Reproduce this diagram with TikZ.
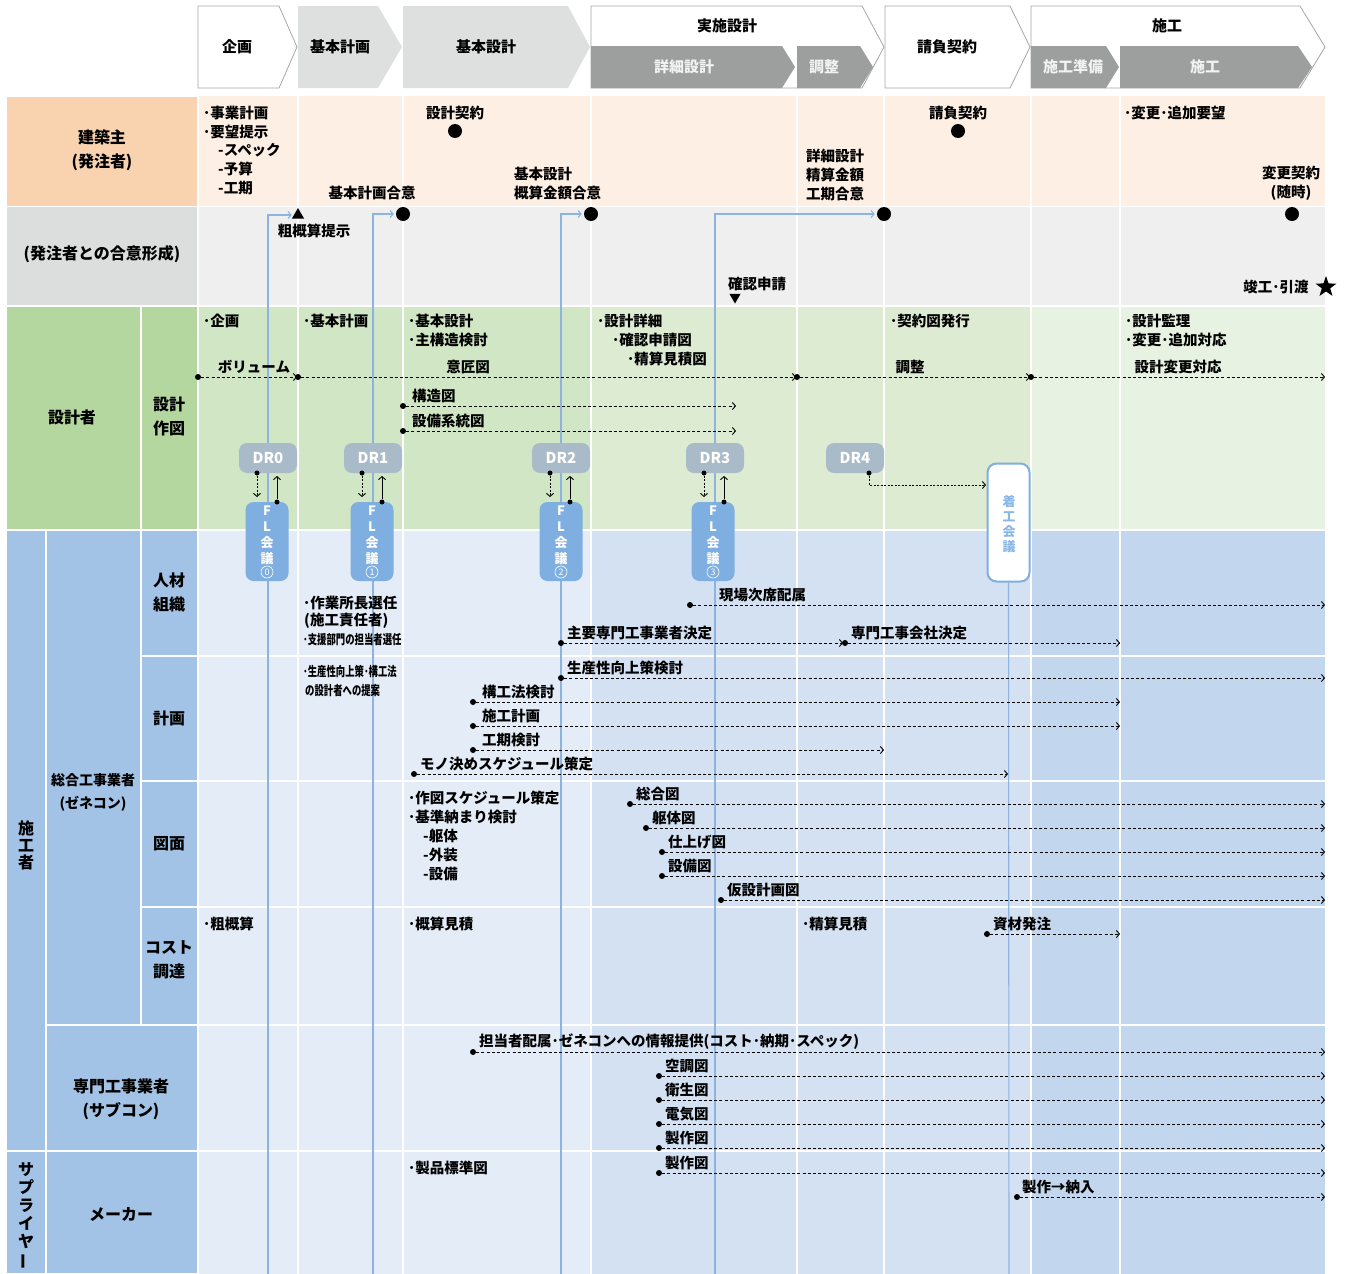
\documentclass[tikz,border=0pt]{standalone}
\usepackage{fontspec}
\usepackage{graphicx}
\setmainfont{Noto Sans CJK JP}
\usetikzlibrary{arrows.meta,shapes.geometric,calc}

\definecolor{ownerL}{HTML}{F9D3AF}
\definecolor{ownerC}{HTML}{FDEFE4}
\definecolor{agreeL}{HTML}{DCDDDD}
\definecolor{agreeC}{HTML}{EFEFEF}
\definecolor{desL}{HTML}{B4D79F}
\definecolor{desA}{HTML}{D0E6C4}
\definecolor{desB}{HTML}{DDEBD3}
\definecolor{desC}{HTML}{E8F2E2}
\definecolor{conL}{HTML}{A3C3E6}
\definecolor{conA}{HTML}{E4ECF7}
\definecolor{conB}{HTML}{D3E1F2}
\definecolor{conC}{HTML}{C2D6EE}
\definecolor{hdrLight}{HTML}{DEDFDF}
\definecolor{hdrDark}{HTML}{9D9E9E}
\definecolor{hdrEdge}{HTML}{A6A6A6}
\definecolor{hdrText}{HTML}{F2F2F2}
\definecolor{drFill}{HTML}{A9BAC9}
\definecolor{flFill}{HTML}{7EAFE0}
\definecolor{flText}{HTML}{8AB8E6}
\definecolor{vline}{HTML}{8DB4E0}

\begin{document}
\begin{tikzpicture}[x=1pt,y=-1pt,
  txt/.style={inner sep=0pt, font=\fontsize{14.5}{19}\selectfont\bfseries},
  lft/.style={txt, anchor=west, align=left},
  small/.style={lft, font=\fontsize{13}{19}\selectfont\bfseries},
  lbl/.style={inner sep=0pt, align=center, font=\fontsize{16}{24}\selectfont\bfseries},
  vlbl/.style={inner sep=0pt, align=center, font=\fontsize{16}{17}\selectfont\bfseries},
  hdr/.style={inner sep=0pt, font=\fontsize{15}{18}\selectfont\bfseries},
  hdrw/.style={hdr, text=hdrText},
  cell/.style={draw=white, line width=1.6pt},
  grid/.style={draw=white, line width=1.6pt},
  dotn/.style={circle, fill=black, inner sep=0pt, minimum size=6pt},
  mile/.style={circle, fill=black, inner sep=0pt, minimum size=14pt},
  flow/.style={line width=0.9pt, dash pattern=on 3pt off 2.2pt,
    -{Straight Barb[length=3pt,width=7pt]}},
  solidflow/.style={line width=0.9pt, -{Straight Barb[length=3pt,width=7pt]}},
  blueline/.style={draw=vline, line width=1.1pt, shorten >=2pt,
    -{Straight Barb[length=3pt,width=7pt]}},
  drbox/.style={rounded corners=8pt, fill=drFill, minimum width=58pt,
    minimum height=30pt, inner sep=0pt, text=white,
    font=\fontsize{15}{15}\selectfont\bfseries},
  flbox/.style={rounded corners=8pt, fill=flFill, minimum width=43pt,
    minimum height=79pt, inner sep=0pt},
  fltext/.style={inner sep=0pt, align=center, text=white,
    font=\fontsize{13}{16}\selectfont\bfseries},
  circnum/.style={circle, draw=white, line width=0.6pt, minimum size=12pt,
    inner sep=0pt, text=white, font=\fontsize{9}{9}\selectfont}
]
\useasboundingbox (0,0) rectangle (1345,1274);

% ---------- phase header ----------
\draw[hdrEdge, fill=white, line width=0.8pt] (198,6) -- (279,6) -- (297,47) -- (279,88) -- (198,88) -- cycle;
\fill[hdrLight] (298,6) -- (378,6) -- (402,47) -- (378,88) -- (298,88) -- cycle;
\fill[hdrLight] (403,6) -- (568,6) -- (590,47) -- (568,88) -- (403,88) -- cycle;
\draw[hdrEdge, fill=white, line width=0.8pt] (591,6) -- (862,6) -- (884,47) -- (862,88) -- (591,88) -- cycle;
\fill[hdrDark] (591,46) -- (782,46) -- (795,67) -- (782,88) -- (591,88) -- cycle;
\fill[hdrDark] (797,46) -- (860,46) -- (873,67) -- (860,88) -- (797,88) -- cycle;
\draw[hdrEdge, fill=white, line width=0.8pt] (885,6) -- (1010,6) -- (1030,47) -- (1010,88) -- (885,88) -- cycle;
\draw[hdrEdge, fill=white, line width=0.8pt] (1031,6) -- (1300,6) -- (1325,47) -- (1300,88) -- (1031,88) -- cycle;
\fill[hdrDark] (1031,46) -- (1106,46) -- (1119,67) -- (1106,88) -- (1031,88) -- cycle;
\fill[hdrDark] (1120,46) -- (1298,46) -- (1312,67) -- (1298,88) -- (1120,88) -- cycle;

\node[hdr] (h1) at (237,47) {企画};
\node[hdr] (h2) at (340,47) {基本計画};
\node[hdr] (h3) at (486,47) {基本設計};
\node[hdr] (h4) at (727,26) {実施設計};
\node[hdrw] (h4a) at (684,67) {詳細設計};
\node[hdrw] (h4b) at (824,67) {調整};
\node[hdr] (h5) at (947,47) {請負契約};
\node[hdr] (h6) at (1167,26) {施工};
\node[hdrw] (h6a) at (1073,67) {施工準備};
\node[hdrw] (h6b) at (1205,67) {施工};

% ---------- content backgrounds ----------
\fill[ownerC] (198,96) rectangle (1325,206.5);
\fill[agreeC] (198,206.5) rectangle (1325,306);
\fill[desA] (198,306) rectangle (591,530);
\fill[desB] (591,306) rectangle (1031,530);
\fill[desC] (1031,306) rectangle (1325,530);
\fill[conA] (198,530) rectangle (591,1274);
\fill[conB] (591,530) rectangle (1031,1274);
\fill[conC] (1031,530) rectangle (1325,1274);
\foreach \x in {298,403,591,797,884,1031,1120}
  \draw[grid] (\x,96) -- (\x,1274);
\foreach \y in {206.5,306,530,656,781,907,1025,1151}
  \draw[grid] (198,\y) -- (1325,\y);

% ---------- row label cells ----------
\path[cell, fill=ownerL] (6,96) rectangle (198,206.5);
\path[cell, fill=agreeL] (6,206.5) rectangle (198,306);
\path[cell, fill=desL] (6,306) rectangle (141,530);
\path[cell, fill=desL] (141,306) rectangle (198,530);
\path[cell, fill=conL] (6,530) rectangle (46,1151);
\path[cell, fill=conL] (46,530) rectangle (141,1025);
\path[cell, fill=conL] (141,530) rectangle (198,656);
\path[cell, fill=conL] (141,656) rectangle (198,781);
\path[cell, fill=conL] (141,781) rectangle (198,907);
\path[cell, fill=conL] (141,907) rectangle (198,1025);
\path[cell, fill=conL] (46,1025) rectangle (198,1151);
\path[cell, fill=conL] (6,1151) rectangle (46,1274);
\path[cell, fill=conL] (46,1151) rectangle (198,1274);

\node[lbl] (l1) at (102,150) {建築主\\(発注者)};
\node[lbl] (l2) at (102,254) {(発注者との合意形成)};
\node[lbl] (l3) at (72,417) {設計者};
\node[lbl] (l4) at (169,416) {設計\\作図};
\node[vlbl] (l5) at (26,845) {施\\工\\者};
\node[lbl, font=\fontsize{14}{23}\selectfont\bfseries] (l6) at (93,792) {総合工事業者\\(ゼネコン)};
\node[lbl] (l7) at (169,592) {人材\\組織};
\node[lbl] (l8) at (169,718) {計画};
\node[lbl] (l9) at (169,844) {図面};
\node[lbl] (l10) at (169,960) {コスト\\調達};
\node[lbl] (l11) at (121,1099) {専門工事業者\\(サブコン)};
\node[vlbl, font=\fontsize{16}{18}\selectfont\bfseries] (l12) at (26,1216) {サ\\プ\\ラ\\イ\\ヤ\\\rotatebox[origin=c]{90}{ー}};
\node[lbl] (l13) at (121,1214) {メーカー};

% ---------- milestones ----------
\node[regular polygon, regular polygon sides=3, fill=black, inner sep=0pt, minimum size=14pt] (ma) at (298,215) {};
\node[mile] (ms1) at (455,131) {};
\node[mile] (ms2) at (958,131) {};
\node[mile] (ms3) at (403,214) {};
\node[mile] (ms4) at (591,214) {};
\node[mile] (ms5) at (884,214) {};
\node[mile] (ms6) at (1292,214) {};
\node[regular polygon, regular polygon sides=3, shape border rotate=180, fill=black, inner sep=0pt, minimum size=13pt] (mv) at (735,297) {};
\node[star, star points=5, star point ratio=2.5, fill=black, inner sep=0pt, minimum size=22pt] (mst) at (1326,287) {};

% ---------- FL / DR / kick-off meeting nodes ----------
\foreach \i/\dx/\fx in {0/268/267, 1/373/372, 2/561/561, 3/715/713}{
  \coordinate (z\i) at (\dx,1274);
}
\node[draw=flFill, line width=2pt, fill=white, rounded corners=9pt, minimum width=42pt, minimum height=118pt, inner sep=0pt] (kc) at (1008.5,522.5) {};
\coordinate (z4) at (1009,1274);

% timeline lines from each meeting up to the agreement milestones
\draw[blueline] (z0) |- (ma);
\draw[blueline] (z1) |- (ms3);
\draw[blueline] (z2) |- (ms4);
\draw[blueline] (z3) |- (ms5);
\draw[draw=vline, line width=1.1pt] (kc.south) -- (z4);

\foreach \i/\dx/\fx in {0/268/267, 1/373/372, 2/561/561, 3/715/713}{
  \node[flbox] (fl\i) at (\fx,541.5) {};
  \node[fltext] (flt\i) at (\fx,535) {F\\L\\会\\議};
  \node[circnum] (fc\i) at (\fx,572) {\i};
  \node[drbox] (dr\i) at (\dx,458) {DR\i};
  \node[dotn, minimum size=5pt] (da\i) at (\dx-11,473) {};
  \coordinate (db\i) at (\dx-11,497);
  \draw[flow, dash pattern=on 2pt off 1.5pt] (da\i) -- (db\i);
  \node[dotn, minimum size=5pt] (fa\i) at (\dx+9,502) {};
  \coordinate (fb\i) at (\dx+9,476);
  \draw[solidflow] (fa\i) -- (fb\i);
}
\node[drbox] (dr4) at (855,458) {DR4};
\node[dotn, minimum size=5pt] (da4) at (869,473) {};
\coordinate (k4) at (986,485);
\draw[flow, dash pattern=on 2pt off 1.5pt] (da4) |- (k4);
\node[inner sep=0pt, align=center, text=flText, font=\fontsize{13}{15}\selectfont\bfseries] (kct) at (1009,524) {着\\工\\会\\議};

% ---------- owner row ----------
\node[lft] (o1) at (203,113) {･事業計画};
\node[lft] (o2) at (203,132) {･要望提示};
\node[lft] (o3) at (218,150) {-スペック};
\node[lft] (o4) at (218,169) {-予算};
\node[lft] (o5) at (218,188) {-工期};
\node[txt] (o6) at (455,113) {設計契約};
\node[txt] (o7) at (372,193) {基本計画合意};
\node[lft] (o8) at (514,183.5) {基本設計\\概算金額合意};
\node[lft] (o9) at (806,174.5) {詳細設計\\精算金額\\工期合意};
\node[txt] (o10) at (958,113) {請負契約};
\node[lft] (o11) at (1124,113) {･変更･追加要望};
\node[txt, align=center] (o12) at (1291,183.5) {変更契約\\(随時)};

% ---------- agreement row ----------
\node[txt] (a1) at (314,231) {粗概算提示};
\node[txt] (a2) at (757,284) {確認申請};
\node[txt] (a3) at (1276,287) {竣工･引渡};

% ---------- designer row ----------
\node[lft] (d1) at (203,321) {･企画};
\node[lft] (d2) at (303,321) {･基本計画};
\node[lft] (d3) at (408,321) {･基本設計};
\node[lft] (d4) at (408,340) {･主構造検討};
\node[lft] (d5) at (597,321) {･設計詳細};
\node[lft] (d6) at (612,340) {･確認申請図};
\node[lft] (d7) at (627,359) {･精算見積図};
\node[lft] (d8) at (890,321) {･契約図発行};
\node[lft] (d9) at (1125,321) {･設計監理};
\node[lft] (d10) at (1125,340) {･変更･追加対応};

\foreach \n/\xa/\xb in {p/198/297, q/298/796, r/797/1030, s/1031/1325}{
  \node[dotn] (g\n) at (\xa,377) {};
  \coordinate (h\n) at (\xb,377);
  \draw[flow] (g\n) -- (h\n);
}
\node[txt] (gl1) at (254,367) {ボリューム};
\node[txt] (gl2) at (468,367) {意匠図};
\node[txt] (gl3) at (910,367) {調整};
\node[txt] (gl4) at (1178,367) {設計変更対応};

\foreach \n/\y/\t in {t/406/構造図, u/431/設備系統図}{
  \node[dotn] (g\n) at (403,\y) {};
  \coordinate (h\n) at (736,\y);
  \draw[flow] (g\n) -- (h\n);
  \node[lft] (gt\n) at (412,\y-10) {\t};
}

% ---------- contractor / supplier rows ----------
\node[lft] (c1) at (303,603) {･作業所長選任};
\node[lft] (c2) at (304,621) {(施工責任者)};
\node[small] (c3) at (303,640) {\scalebox{0.72}[1]{･支援部門の担当者選任}};
\node[small] (c4) at (303,672) {\scalebox{0.72}[1]{･生産性向上策･構工法}};
\node[small] (c5) at (305,691) {\scalebox{0.72}[1]{の設計者への提案}};
\node[lft] (c6) at (408,798) {･作図スケジュール策定};
\node[lft] (c7) at (408,817) {･基準納まり検討};
\node[lft] (c8) at (423,836) {-躯体};
\node[lft] (c9) at (423,855) {-外装};
\node[lft] (c10) at (423,874) {-設備};
\node[lft] (c11) at (203,924) {･粗概算};
\node[lft] (c12) at (408,924) {･概算見積};
\node[lft] (c13) at (802,924) {･精算見積};
\node[lft] (c14) at (408,1168) {･製品標準図};

\foreach \n/\xa/\xb/\y/\lx/\t in {
  a/690/1325/605/719/現場次席配属,
  b/561/843/643/567/主要専門工事業者決定,
  c/845/1120/643/851/専門工事会社決定,
  d/561/1325/678/567/生産性向上策検討,
  e/473/1120/702/482/構工法検討,
  f/473/1120/726/482/施工計画,
  g/473/884/750/482/工期検討,
  h/414/1008/774/420/モノ決めスケジュール策定,
  i/630/1325/804/636/総合図,
  j/646/1325/828/652/躯体図,
  k/662/1325/852/668/仕上げ図,
  l/662/1325/876/668/設備図,
  m/721/1325/900/727/仮設計画図,
  n/987/1120/934/993/資材発注,
  o/473/1325/1052/479/担当者配属･ゼネコンへの情報提供(コスト･納期･スペック),
  p/659/1325/1076/665/空調図,
  q/659/1325/1100/665/衛生図,
  r/659/1325/1124/665/電気図,
  s/659/1325/1148/665/製作図,
  t/659/1325/1173/665/製作図,
  u/1017/1325/1197/1022/製作→納入}{
  \node[dotn] (s\n) at (\xa,\y) {};
  \coordinate (e\n) at (\xb,\y);
  \draw[flow] (s\n) -- (e\n);
  \node[lft] (t\n) at (\lx,\y-10) {\t};
}
\end{tikzpicture}
\end{document}
